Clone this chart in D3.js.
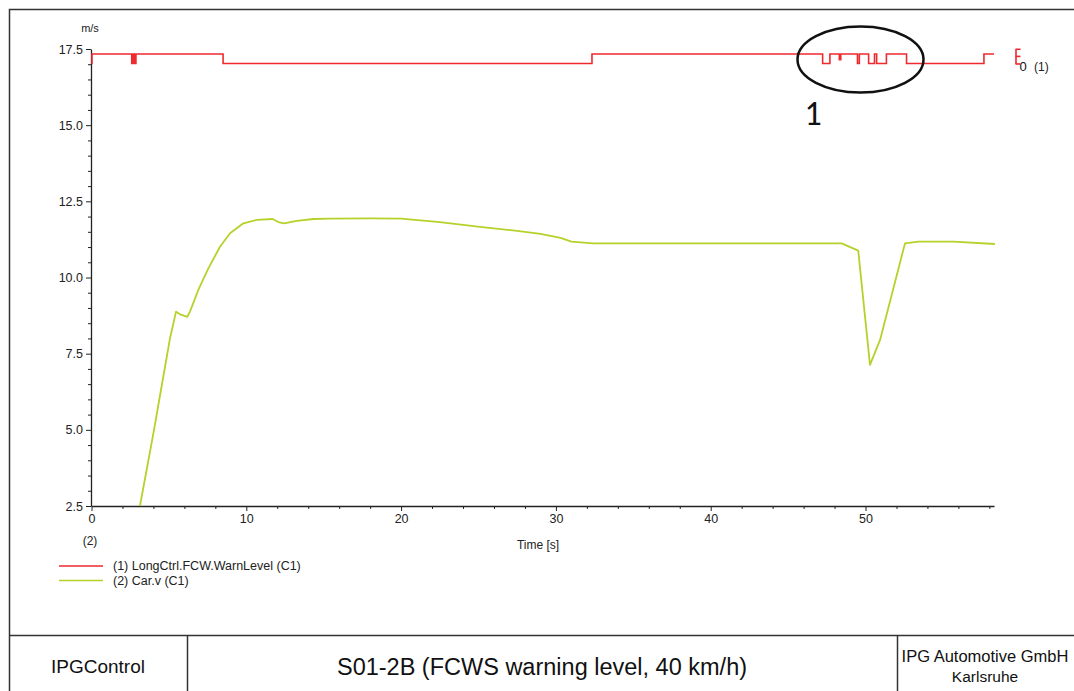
<!DOCTYPE html>
<html>
<head>
<meta charset="utf-8">
<script src="https://cdn.jsdelivr.net/npm/d3@7"></script>
<style>
  html, body { margin: 0; padding: 0; background: #fff; }
  svg { display: block; font-family: "Liberation Sans", Arial, sans-serif; }
</style>
</head>
<body>
<svg id="chart" width="1074" height="691"></svg>
<script>
// ---- data ----
const speedTime = [3.13, 4.0, 4.64, 5.07, 5.46, 5.72, 6.19, 6.36, 6.9, 7.55, 8.3, 8.95, 9.81, 10.67, 11.7, 12.07, 12.44, 13.26, 14.33, 15.4, 18, 20, 22.5, 25.1, 27.5, 29.0, 30.3, 31.0, 32.4, 35, 40, 45, 48.46, 49.53, 50.29, 50.94, 52.55, 53.41, 55.67, 58.36];
const speedValue = [2.5, 4.89, 6.75, 8.0, 8.88, 8.79, 8.71, 8.88, 9.59, 10.3, 11.01, 11.45, 11.78, 11.89, 11.92, 11.82, 11.78, 11.86, 11.92, 11.93, 11.94, 11.93, 11.82, 11.66, 11.53, 11.43, 11.3, 11.18, 11.12, 11.12, 11.12, 11.12, 11.12, 10.88, 7.13, 7.95, 11.12, 11.18, 11.18, 11.1];
const warnTime = [0, 0.03, 2.60, 2.65, 2.70, 2.75, 2.80, 2.87, 8.5, 32.33, 47.23, 47.7, 48.31, 48.40, 49.48, 49.6, 50.2, 50.58, 50.72, 51.35, 52.65, 57.65, 58.3];
const warnLevel = [0, 1, 0, 1, 0, 1, 0, 1, 0, 1, 0, 1, 0.4, 1, 0, 1, 0, 1, 0, 1, 0, 1, 1];
const yTickValues = [2.5, 5.0, 7.5, 10.0, 12.5, 15.0, 17.5];
const xTickValues = [0, 10, 20, 30, 40, 50];
const warnAxisTicks = [0, 0.8, 1.55];
const legendLabels = ["(1) LongCtrl.FCW.WarnLevel (C1)", "(2) Car.v (C1)"];
const colors = ["#ee2a2e", "#b8d02a"];
const footerLeft = "IPGControl";
const footerTitle = "S01-2B (FCWS warning level, 40 km/h)";
const footerRight = ["IPG Automotive GmbH", "Karlsruhe"];

// ---- setup ----
const svg = d3.select("#chart");
const x = d3.scaleLinear().domain([0, 58.3]).range([91.5, 994]);
const y = d3.scaleLinear().domain([2.5, 17.5]).range([506, 49]);
const yWarn = d3.scaleLinear().domain([0, 1]).range([63.5, 54]);

// outer frame
svg.append("rect").attr("x", 9.5).attr("y", 9.5).attr("width", 1070).attr("height", 700)
  .attr("fill", "none").attr("stroke", "#333").attr("stroke-width", 1.5);
// footer lines
svg.append("line").attr("x1", 9.5).attr("x2", 1074).attr("y1", 635.5).attr("y2", 635.5).attr("stroke", "#333").attr("stroke-width", 1.5);
[187.5, 897.5].forEach(xx => svg.append("line").attr("x1", xx).attr("x2", xx).attr("y1", 635.5).attr("y2", 691).attr("stroke", "#333").attr("stroke-width", 1.5));

// axes
const yMinor = d3.range(2.5, 17.51, 0.5).filter(v => Math.abs((v - 2.5) / 2.5 - Math.round((v - 2.5) / 2.5)) > 1e-6);
svg.append("g").attr("transform", "translate(91,0)")
  .call(d3.axisLeft(y).tickValues(yMinor).tickSize(3).tickFormat(""))
  .call(g => g.select(".domain").remove());
svg.append("g").attr("class", "yaxis").attr("transform", "translate(91,0)")
  .call(d3.axisLeft(y).tickValues(yTickValues).tickSize(5).tickSizeOuter(0).tickFormat(d3.format(".1f")));

const xMinor = d3.range(2, 58.3, 2).filter(v => v % 10 !== 0);
svg.append("g").attr("transform", "translate(0,506)")
  .call(d3.axisBottom(x).tickValues(xMinor).tickSize(3).tickFormat(""))
  .call(g => g.select(".domain").remove());
svg.append("g").attr("class", "xaxis").attr("transform", "translate(0,506)")
  .call(d3.axisBottom(x).tickValues(xTickValues).tickSize(5).tickSizeOuter(0).tickFormat(d3.format("d")));

svg.selectAll(".yaxis text, .xaxis text").attr("font-size", 12.5).attr("fill", "#222")
  .attr("font-family", "'Liberation Sans', Arial, sans-serif");
svg.selectAll(".domain").attr("stroke", "#222").attr("stroke-width", 1.3);
svg.selectAll(".tick line").attr("stroke", "#222");

// axis labels
svg.append("text").attr("x", 90).attr("y", 32).attr("text-anchor", "middle").attr("font-size", 11).attr("fill", "#222").text("m/s");
svg.append("text").attr("x", 90).attr("y", 545).attr("text-anchor", "middle").attr("font-size", 12).attr("fill", "#222").text("(2)");
svg.append("text").attr("x", 538).attr("y", 549).attr("text-anchor", "middle").attr("font-size", 12).attr("fill", "#222").text("Time [s]");

// warn level axis (small red marker)
const yWarnAxis = d3.scaleLinear().domain([0, d3.max(warnAxisTicks)]).range([yWarn(0), yWarn(d3.max(warnAxisTicks))]);
const warnAxis = svg.append("g").attr("transform", "translate(1015.5,0)")
  .call(d3.axisRight(yWarnAxis).tickValues(warnAxisTicks).tickSize(5).tickSizeOuter(0).tickFormat(d => d === 0 ? "0" : ""));
warnAxis.select(".domain").attr("stroke", colors[0]).attr("stroke-width", 1.6);
warnAxis.selectAll(".tick line").attr("stroke", colors[0]).attr("stroke-width", 1.6);
warnAxis.selectAll(".tick text").attr("fill", "#111").attr("font-size", 13).attr("dy", "0.55em").attr("x", 4)
  .attr("font-family", "'Liberation Sans', Arial, sans-serif");
svg.append("text").attr("x", 1034).attr("y", 71).attr("font-size", 12).attr("fill", "#222").text("(1)");

// series
const warnData = warnTime.map((t, i) => [t, warnLevel[i]]);
svg.append("path").datum(warnData)
  .attr("d", d3.line().x(d => x(d[0])).y(d => yWarn(d[1])).curve(d3.curveStepAfter))
  .attr("fill", "none").attr("stroke", colors[0]).attr("stroke-width", 1.6);

const speedData = speedTime.map((t, i) => [t, speedValue[i]]);
svg.append("path").datum(speedData)
  .attr("d", d3.line().x(d => x(d[0])).y(d => y(d[1])))
  .attr("fill", "none").attr("stroke", colors[1]).attr("stroke-width", 1.8).attr("stroke-linejoin", "round");

// annotation
svg.append("ellipse").attr("cx", 860.5).attr("cy", 59.5).attr("rx", 63).attr("ry", 33)
  .attr("fill", "none").attr("stroke", "#111").attr("stroke-width", 2.5);
svg.append("text").attr("x", 813).attr("y", 125).attr("text-anchor", "middle").attr("font-size", 34).attr("fill", "#111")
  .attr("font-family", "Carlito, 'Liberation Sans', Arial, sans-serif").text("1");

// legend
legendLabels.forEach((lab, i) => {
  const yy = 566 + i * 14.5;
  svg.append("line").attr("x1", 59).attr("x2", 103).attr("y1", yy).attr("y2", yy).attr("stroke", colors[i]).attr("stroke-width", 1.5);
  svg.append("text").attr("x", 113).attr("y", yy + 4).attr("font-size", 12.5).attr("fill", "#222").text(lab);
});

// footer texts
svg.append("text").attr("x", 98).attr("y", 673).attr("text-anchor", "middle").attr("font-size", 19).attr("fill", "#111").text(footerLeft);
svg.append("text").attr("x", 542).attr("y", 675).attr("text-anchor", "middle").attr("font-size", 23.5).attr("fill", "#111").text(footerTitle);
footerRight.forEach((t, i) => svg.append("text").attr("x", 985).attr("y", 662 + i * 20).attr("text-anchor", "middle").attr("font-size", i === 0 ? 16.5 : 15.5).attr("fill", "#111").text(t));
</script>
</body>
</html>
